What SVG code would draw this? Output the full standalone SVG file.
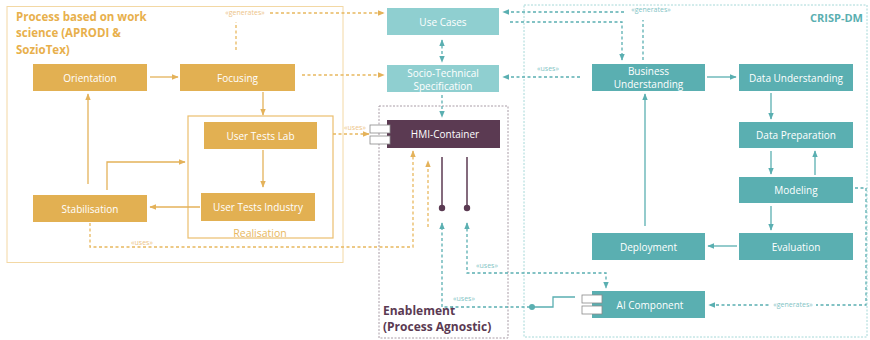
<svg xmlns="http://www.w3.org/2000/svg" width="870" height="340" viewBox="0 0 870 340">
  <style>
    .txt { font-family: "Open Sans", "DejaVu Sans", sans-serif; font-size: 10px; fill: #ffffff; text-anchor: middle; dominant-baseline: central; }
    .orange { fill: #E2B052; }
    .teal { fill: #5AAFB1; }
    .lteal { fill: #8FCFD0; }
    .hmi { fill: #5B3A52; }
    .port { fill: #ffffff; stroke: #8a8a8a; stroke-width: 0.8; }
    .frame-proc { fill: none; stroke: #F3D8A4; stroke-width: 1; }
    .frame-real { fill: none; stroke: #EBBE6E; stroke-width: 1.2; }
    .frame-enab { fill: none; stroke: #A99CA6; stroke-width: 1; stroke-dasharray: 2 1.5; }
    .frame-crisp { fill: none; stroke: #A6D8D8; stroke-width: 1; stroke-dasharray: 2 1.5; }
    .title { font-family: "Open Sans", "DejaVu Sans", sans-serif; font-weight: bold; }
    .lbl { font-family: "Open Sans", "DejaVu Sans", sans-serif; font-size: 7px; text-anchor: middle; }
    .o-solid { fill: none; stroke: #E4B25A; stroke-width: 1.3; }
    .o-dash { fill: none; stroke: #E8B85F; stroke-width: 1.3; stroke-dasharray: 3 2.5; }
    .t-solid { fill: none; stroke: #5AAFB1; stroke-width: 1.3; }
    .t-dash { fill: none; stroke: #5AAFB1; stroke-width: 1.3; stroke-dasharray: 3 2.5; }
    .h-solid { fill: none; stroke: #5B3A52; stroke-width: 1.5; }
  </style>
  <defs>
    <marker id="ao" viewBox="0 0 10 10" refX="9" refY="5" markerWidth="7" markerHeight="7" markerUnits="userSpaceOnUse" orient="auto-start-reverse">
      <path d="M0,1 L10,5 L0,9 z" fill="#E4B25A"/>
    </marker>
    <marker id="at" viewBox="0 0 10 10" refX="9" refY="5" markerWidth="7" markerHeight="7" markerUnits="userSpaceOnUse" orient="auto-start-reverse">
      <path d="M0,1 L10,5 L0,9 z" fill="#5AAFB1"/>
    </marker>
  </defs>

  <rect width="870" height="340" fill="#ffffff"/>

  <!-- frames -->
  <g id="frame-process">
    <rect class="frame-proc" x="7" y="6.5" width="336" height="256"/>
    <text class="title" font-size="11.5" fill="#E8B04C" x="16" y="21">Process based on work</text>
    <text class="title" font-size="11.5" fill="#E8B04C" x="16" y="37">science (APRODI &amp;</text>
    <text class="title" font-size="11.5" fill="#E8B04C" x="16" y="54">SozioTex)</text>
  </g>
  <g id="frame-realisation">
    <rect class="frame-real" x="188" y="116" width="145" height="122"/>
    <text x="260" y="237" font-family="Open Sans, DejaVu Sans, sans-serif" font-size="10.5" fill="#E8B85F" text-anchor="middle">Realisation</text>
  </g>
  <g id="frame-enablement">
    <rect class="frame-enab" x="379" y="106" width="129" height="232"/>
    <text class="title" font-size="12" fill="#5B3A52" x="383" y="315">Enablement</text>
    <text class="title" font-size="12" fill="#5B3A52" x="383" y="331">(Process Agnostic)</text>
  </g>
  <g id="frame-crisp">
    <rect class="frame-crisp" x="524" y="5" width="343" height="332"/>
    <text class="title" font-size="11" fill="#5AAFB1" x="863" y="22" text-anchor="end">CRISP-DM</text>
  </g>

  <!-- connectors -->
  <g id="connectors">
    <!-- process (orange) -->
    <path class="o-solid" d="M150,77 H178" marker-end="url(#ao)"/>
    <path class="o-solid" d="M263,92 V115" marker-end="url(#ao)"/>
    <path class="o-solid" d="M263,150 V187" marker-end="url(#ao)"/>
    <path class="o-solid" d="M200,207 H150" marker-end="url(#ao)"/>
    <path class="o-solid" d="M88,184 V94" marker-end="url(#ao)"/>
    <path class="o-solid" d="M107,190 V162 H185" marker-end="url(#ao)"/>

    <path class="o-dash" d="M236,50 V22"/>
    <path class="o-dash" d="M270,13 H384" marker-end="url(#ao)"/>
    <text class="lbl" x="245" y="15" fill="#EDC488">«generates»</text>
    <path class="o-dash" d="M302,75 H384" marker-end="url(#ao)"/>
    <path class="o-dash" d="M333,134 H369" marker-end="url(#ao)"/>
    <text class="lbl" x="355" y="130" fill="#EDC488">«uses»</text>
    <path class="o-dash" d="M90,223 V247 H413 V151" marker-end="url(#ao)"/>
    <text class="lbl" x="142" y="245" fill="#EDC488">«uses»</text>
    <path class="o-dash" d="M428,227 V161" marker-end="url(#ao)"/>

    <!-- CRISP-DM (teal) -->
    <path class="t-dash" d="M442,40 V62" marker-start="url(#at)" marker-end="url(#at)"/>
    <path class="t-dash" d="M442,95 V117" marker-end="url(#at)"/>
    <path class="t-dash" d="M580,77 H503" marker-end="url(#at)"/>
    <text class="lbl" x="548" y="71" fill="#7FC4C5">«uses»</text>
    <path class="t-dash" d="M643,60 V20"/>
    <path class="t-dash" d="M624,12 H503" marker-end="url(#at)"/>
    <text class="lbl" x="651" y="12" fill="#7FC4C5">«generates»</text>
    <path class="t-dash" d="M510,22 H622 V60" marker-end="url(#at)"/>

    <path class="t-solid" d="M707,77 H736" marker-end="url(#at)"/>
    <path class="t-solid" d="M771,93 V119" marker-end="url(#at)"/>
    <path class="t-solid" d="M771,151 V174" marker-end="url(#at)"/>
    <path class="t-solid" d="M815,175 V151" marker-end="url(#at)"/>
    <path class="t-solid" d="M771,206 V230" marker-end="url(#at)"/>
    <path class="t-solid" d="M737,246 H708" marker-end="url(#at)"/>
    <path class="t-solid" d="M645,226 V94" marker-end="url(#at)"/>

    <path class="t-dash" d="M855,188 H866 V305 H709" marker-end="url(#at)"/>
    <rect x="770" y="300" width="46" height="9" fill="#ffffff"/>
    <text class="lbl" x="793" y="307" fill="#7FC4C5">«generates»</text>

    <path class="t-dash" d="M530,307 H442 V223" marker-end="url(#at)"/>
    <text class="lbl" x="464" y="301" fill="#7FC4C5">«uses»</text>
    <path class="t-dash" d="M467,223 V273 H606 V288" marker-start="url(#at)" marker-end="url(#at)"/>
    <text class="lbl" x="487" y="268" fill="#7FC4C5">«uses»</text>

    <!-- provided interfaces -->
    <path class="t-solid" d="M532,307 H553 V297 H575"/>
    <circle cx="532" cy="307" r="3" fill="#5AAFB1"/>
    <path class="h-solid" d="M442,157 V208"/>
    <circle cx="442" cy="208" r="3.2" fill="#5B3A52"/>
    <path class="h-solid" d="M467,157 V208"/>
    <circle cx="467" cy="208" r="3.2" fill="#5B3A52"/>
  </g>

  <!-- process nodes -->
  <g id="orientation"><rect class="orange" x="33" y="64" width="114" height="27"/><text class="txt" x="90" y="77.5">Orientation</text></g>
  <g id="focusing"><rect class="orange" x="180" y="64" width="115" height="27"/><text class="txt" x="237.5" y="77.5">Focusing</text></g>
  <g id="user-tests-lab"><rect class="orange" x="204" y="122" width="113" height="27"/><text class="txt" x="260.5" y="135.5">User Tests Lab</text></g>
  <g id="user-tests-industry"><rect class="orange" x="201" y="193" width="114" height="28"/><text class="txt" x="258" y="207">User Tests Industry</text></g>
  <g id="stabilisation"><rect class="orange" x="33" y="195" width="114" height="27"/><text class="txt" x="90" y="208.5">Stabilisation</text></g>

  <!-- specification nodes -->
  <g id="use-cases"><rect class="lteal" x="387" y="8" width="112" height="27"/><text class="txt" x="443" y="21.5">Use Cases</text></g>
  <g id="socio-technical-specification"><rect class="lteal" x="387" y="65" width="112" height="27"/><text class="txt" x="443" y="72.5">Socio-Technical</text><text class="txt" x="443" y="85.5">Specification</text></g>

  <!-- enablement nodes -->
  <g id="hmi-container">
    <rect class="hmi" x="387" y="120" width="113" height="28"/>
    <rect class="port" x="370" y="125" width="20" height="8"/>
    <rect class="port" x="370" y="136" width="20" height="8"/>
    <text class="txt" x="445" y="134">HMI-Container</text>
  </g>
  <g id="ai-component">
    <rect class="teal" x="592" y="291" width="113" height="27"/>
    <rect class="port" x="582" y="295" width="20" height="8"/>
    <rect class="port" x="582" y="306" width="20" height="8"/>
    <text class="txt" x="650" y="304.5">AI Component</text>
  </g>

  <!-- CRISP-DM nodes -->
  <g id="business-understanding"><rect class="teal" x="592" y="64" width="113" height="27"/><text class="txt" x="648.5" y="71">Business</text><text class="txt" x="648.5" y="84">Understanding</text></g>
  <g id="data-understanding"><rect class="teal" x="739" y="64" width="114" height="27"/><text class="txt" x="796" y="77.5">Data Understanding</text></g>
  <g id="data-preparation"><rect class="teal" x="739" y="122" width="114" height="26"/><text class="txt" x="796" y="135">Data Preparation</text></g>
  <g id="modeling"><rect class="teal" x="739" y="177" width="114" height="26"/><text class="txt" x="796" y="190">Modeling</text></g>
  <g id="evaluation"><rect class="teal" x="739" y="233" width="114" height="27"/><text class="txt" x="796" y="246.5">Evaluation</text></g>
  <g id="deployment"><rect class="teal" x="592" y="233" width="113" height="27"/><text class="txt" x="648.5" y="246.5">Deployment</text></g>
</svg>
